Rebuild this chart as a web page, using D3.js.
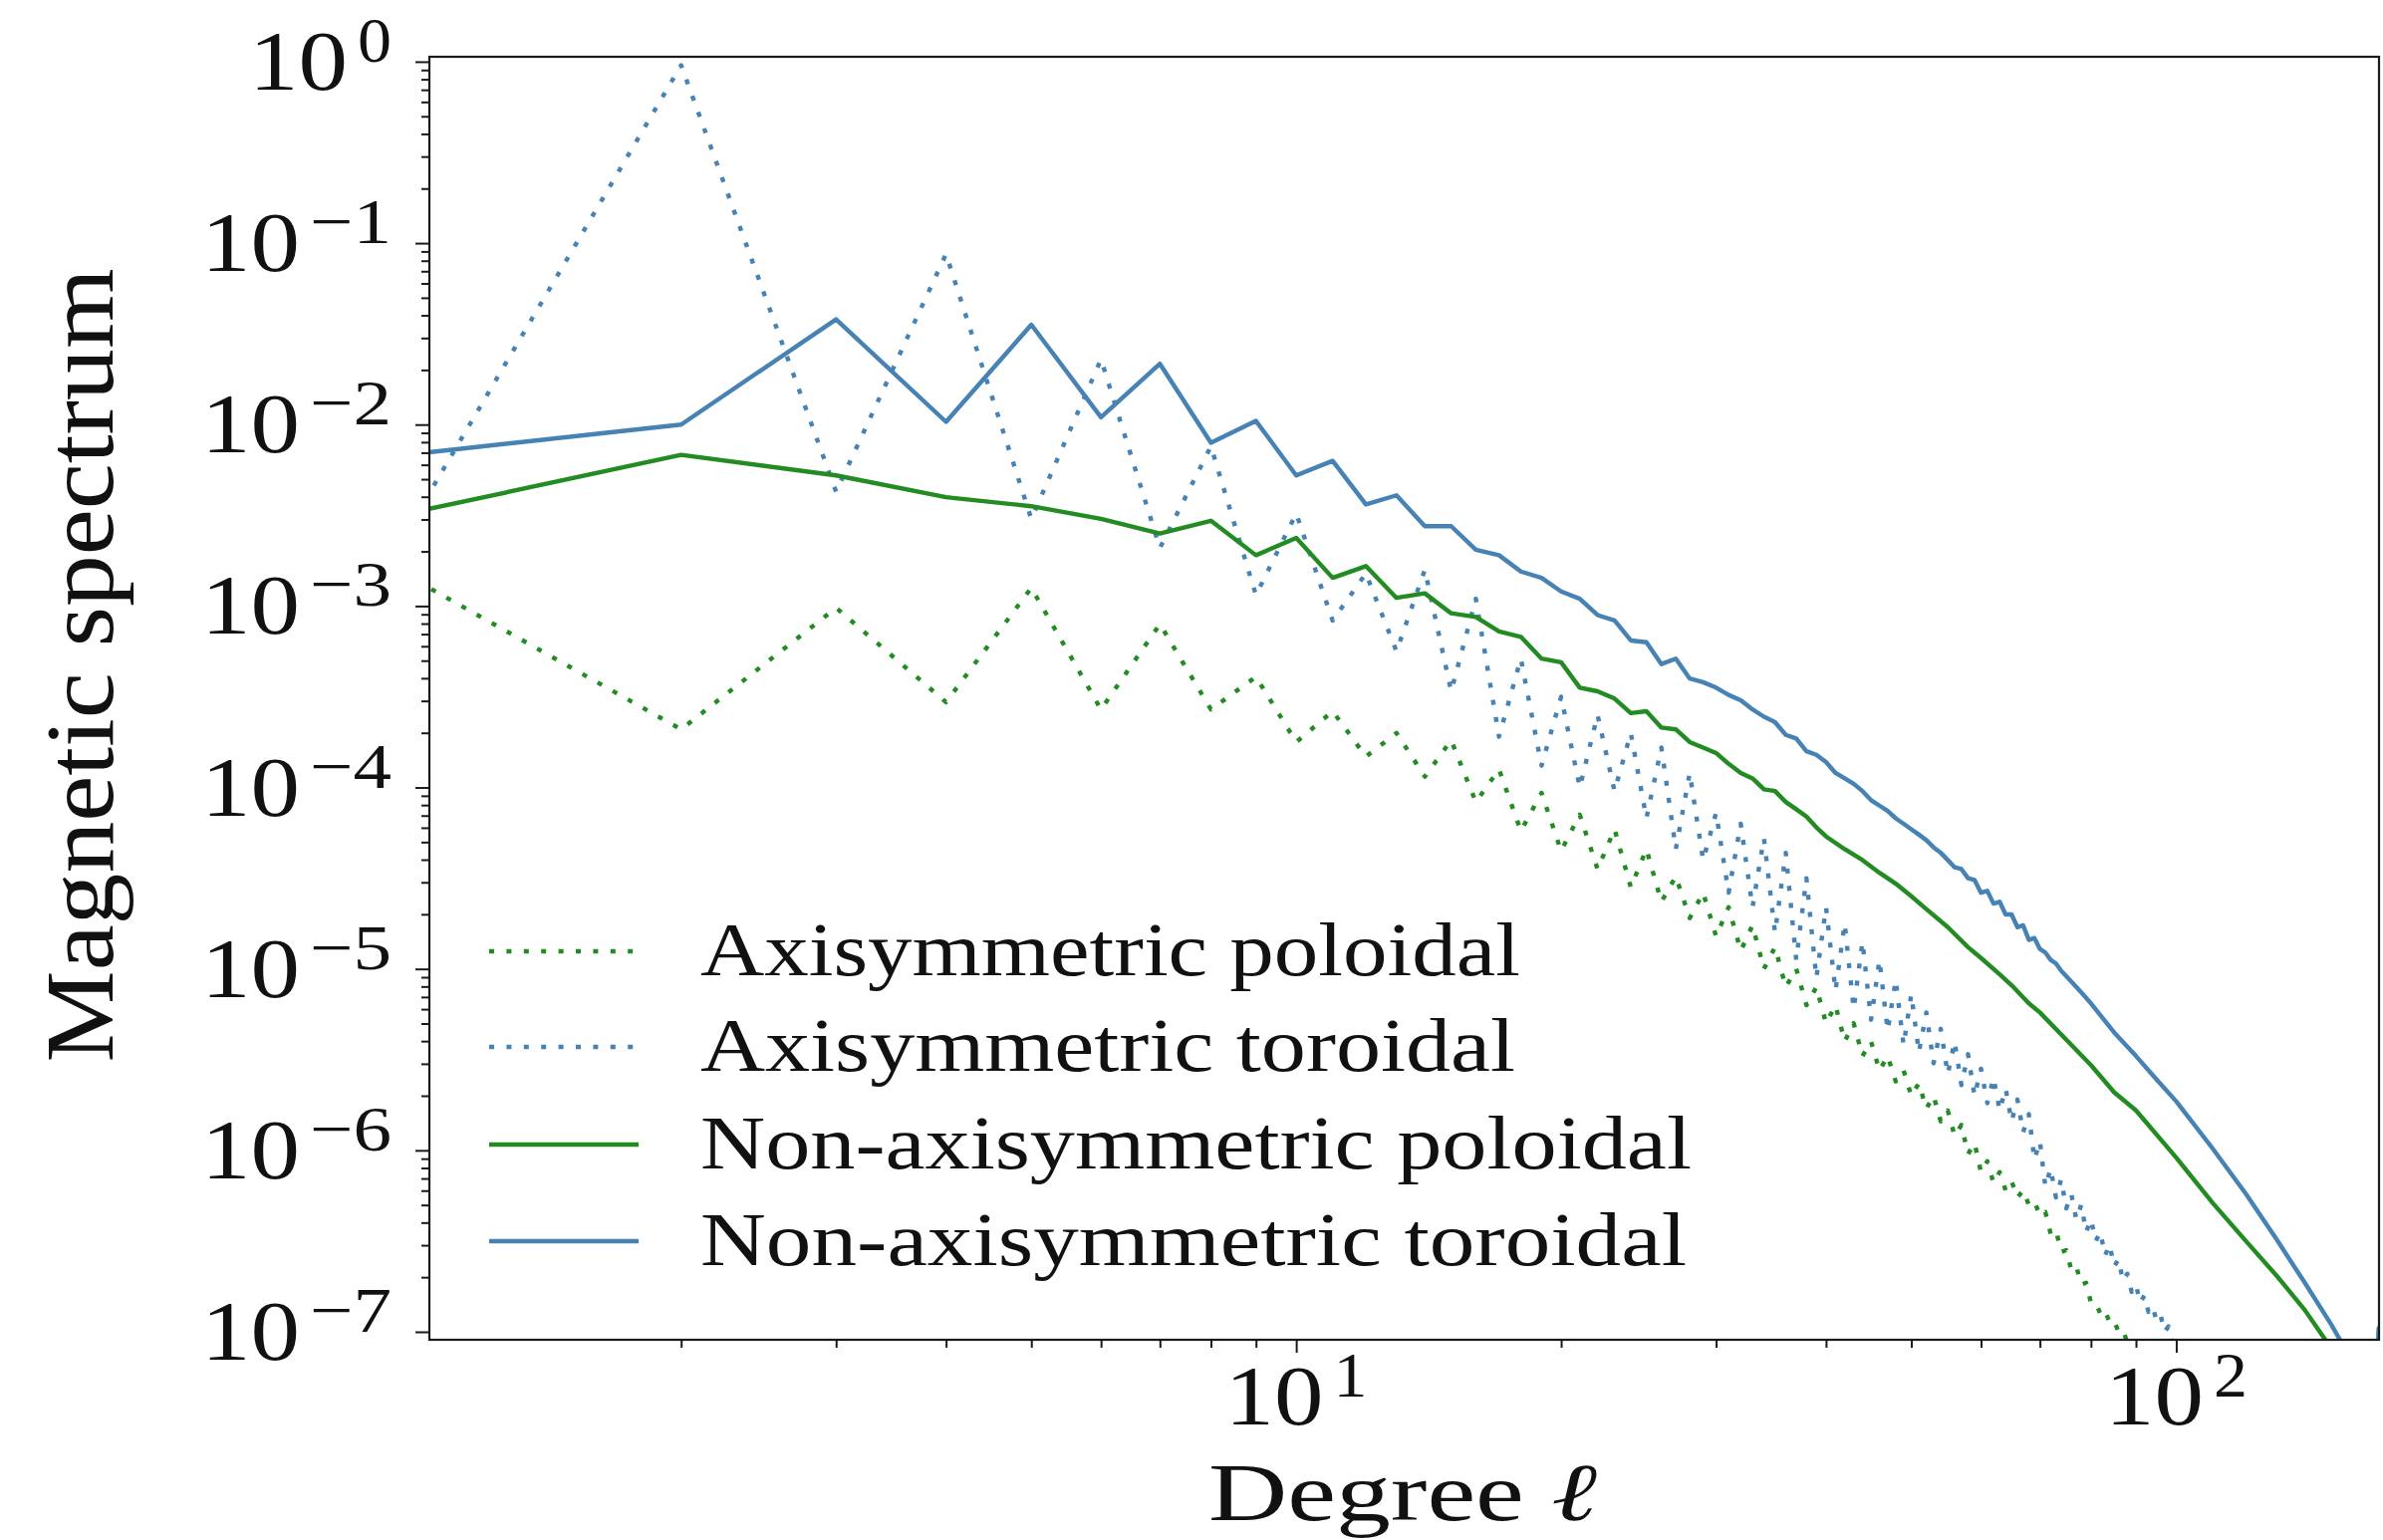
<!DOCTYPE html>
<html><head><meta charset="utf-8">
<script src="https://cdn.jsdelivr.net/npm/d3@7"></script>
<style>html,body{margin:0;padding:0;background:#fff;}svg{display:block;}</style>
</head><body>
<svg id="chart" width="2392" height="1546"></svg>
<script>
// ---------------- DATA ----------------
const seriesNames = ["Axisymmetric poloidal","Axisymmetric toroidal","Non-axisymmetric poloidal","Non-axisymmetric toroidal"];

// Axisymmetric poloidal (green, dotted): degrees 1..89
const degAxiPol = d3.range(1, 90);
const expAxiPol = [-2.86,-3.68,-3.01,-3.53,-2.90,-3.57,-3.10,-3.57,-3.39,-3.75,
  -3.58,-3.83,-3.70,-3.94,-3.74,-4.08,-3.90,-4.24,-4.03,-4.35,
  -4.15,-4.45,-4.23,-4.55,-4.34,-4.63,-4.49,-4.72,-4.58,-4.82,
  -4.66,-4.90,-4.76,-5.00,-4.88,-5.10,-5.00,-5.20,-5.10,-5.30,
  -5.20,-5.40,-5.30,-5.48,-5.40,-5.56,-5.48,-5.62,-5.56,-5.70,
  -5.63,-5.77,-5.70,-5.84,-5.78,-5.92,-5.86,-6.02,-5.96,-6.12,
  -6.06,-6.18,-6.12,-6.22,-6.17,-6.26,-6.22,-6.30,-6.28,-6.36,
  -6.34,-6.46,-6.44,-6.56,-6.55,-6.66,-6.64,-6.74,-6.73,-6.84,
  -6.84,-6.90,-6.88,-6.95,-6.94,-7.00,-6.99,-7.06,-7.10];

// Axisymmetric toroidal (blue, dotted): degrees 1..101
const degAxiTor = d3.range(1, 102);
const expAxiTor = [-2.50,-0.02,-2.37,-1.06,-2.52,-1.64,-2.68,-2.12,-2.94,-2.49,
  -3.08,-2.82,-3.25,-2.80,-3.47,-2.96,-3.72,-3.29,-3.88,-3.50,
  -4.00,-3.60,-4.02,-3.70,-4.17,-3.78,-4.34,-3.92,-4.40,-4.14,
  -4.58,-4.20,-4.66,-4.28,-4.80,-4.36,-4.95,-4.50,-5.05,-4.66,
  -5.12,-4.75,-5.22,-4.85,-5.28,-4.95,-5.34,-5.06,-5.42,-5.14,
  -5.46,-5.24,-5.52,-5.33,-5.58,-5.40,-5.64,-5.47,-5.70,-5.55,
  -5.74,-5.60,-5.78,-5.66,-5.84,-5.72,-5.90,-5.80,-6.05,-5.95,
  -6.20,-6.10,-6.26,-6.16,-6.32,-6.24,-6.38,-6.30,-6.45,-6.38,
  -6.50,-6.45,-6.58,-6.52,-6.64,-6.60,-6.72,-6.68,-6.78,-6.74,
  -6.84,-6.80,-6.89,-6.86,-6.94,-6.91,-7.00,-6.97,-7.08,-7.04,-7.15];

// Non-axisymmetric poloidal (green, solid)
const degNonPol = d3.range(1, 41).concat([42,44,46,48,50,52,55,58,60,63,65,68,70,75,80,85,90,100,110,120,130,140,148,168,170]);
const expNonPol = [-2.48,-2.167,-2.28,-2.40,-2.45,-2.52,-2.60,-2.53,-2.72,-2.625,
  -2.845,-2.78,-2.955,-2.93,-3.04,-3.06,-3.14,-3.17,-3.29,-3.31,
  -3.45,-3.47,-3.51,-3.59,-3.58,-3.67,-3.68,-3.75,-3.78,-3.81,
  -3.87,-3.92,-3.95,-4.01,-4.02,-4.08,-4.12,-4.16,-4.22,-4.27,
  -4.34,-4.40,-4.47,-4.53,-4.60,-4.67,-4.77,-4.88,-4.94,-5.03,-5.09,-5.19,-5.24,-5.39,-5.53,
  -5.68,-5.78,-6.04,-6.29,-6.50,-6.69,-6.88,-7.05,-7.50,-6.98];

// Non-axisymmetric toroidal (blue, solid)
const degNonTor = d3.range(1, 76).concat([78,80,85,90,95,100,110,120,130,140,150,155,168,170]);
const expNonTor = [-2.16,-2.00,-1.42,-1.985,-1.45,-1.96,-1.665,-2.10,-1.98,-2.28,
  -2.20,-2.44,-2.39,-2.56,-2.56,-2.69,-2.72,-2.81,-2.845,-2.92,
  -2.96,-3.05,-3.08,-3.19,-3.20,-3.32,-3.29,-3.40,-3.42,-3.45,
  -3.49,-3.52,-3.57,-3.61,-3.64,-3.71,-3.73,-3.80,-3.82,-3.86,
  -3.92,-3.95,-3.98,-4.02,-4.07,-4.10,-4.13,-4.17,-4.20,-4.23,
  -4.26,-4.29,-4.33,-4.36,-4.40,-4.44,-4.45,-4.50,-4.51,-4.58,
  -4.57,-4.64,-4.63,-4.70,-4.70,-4.77,-4.76,-4.84,-4.83,-4.89,
  -4.91,-4.95,-4.97,-5.01,-5.04,
  -5.13,-5.19,-5.35,-5.48,-5.61,-5.73,-5.99,-6.24,-6.49,-6.73,-6.96,-7.08,-7.40,-6.97];

// Axis tick labels
const xTickExps = [1, 2];
const yTickExps = [0, -1, -2, -3, -4, -5, -6, -7];
const xLabelText = "Degree ";
const xLabelSymbol = "ℓ";
const yLabelText = "Magnetic spectrum";

// ---------------- DRAWING ----------------
const colors = {green: "#228b22", blue: "#4682b4"};
const series = [
  {name: seriesNames[0], deg: degAxiPol, exp: expAxiPol, color: colors.green, dotted: true},
  {name: seriesNames[1], deg: degAxiTor, exp: expAxiTor, color: colors.blue, dotted: true},
  {name: seriesNames[2], deg: degNonPol, exp: expNonPol, color: colors.green, dotted: false},
  {name: seriesNames[3], deg: degNonTor, exp: expNonTor, color: colors.blue, dotted: false}
];

const svg = d3.select("#chart");
const L = 431, R = 2388, T = 57, B = 1345;
const x = d3.scaleLog().domain([1.035, 170]).range([L, R]);
const y = d3.scaleLog().domain([Math.pow(10, -7.044), Math.pow(10, 0.027)]).range([B, T]);
const FONT = "'Liberation Serif', 'Times New Roman', serif";
const LW = 4.4;

svg.append("rect").attr("width", 2392).attr("height", 1546).attr("fill", "#fff");

svg.append("clipPath").attr("id", "clip")
  .append("rect").attr("x", L).attr("y", T).attr("width", R - L).attr("height", B - T);

const line = d3.line().x(d => x(d[0])).y(d => y(d[1]));
const gLines = svg.append("g").attr("clip-path", "url(#clip)");
series.forEach(s => {
  const pts = s.deg.map((d, i) => [d, Math.pow(10, s.exp[i])]);
  gLines.append("path").datum(pts)
    .attr("d", line)
    .attr("fill", "none")
    .attr("stroke", s.color)
    .attr("stroke-width", LW)
    .attr("stroke-linejoin", "round")
    .attr("stroke-dasharray", s.dotted ? "5,12.4" : null);
});

// Frame
svg.append("rect").attr("x", L).attr("y", T).attr("width", R - L).attr("height", B - T)
  .attr("fill", "none").attr("stroke", "#1a1a1a").attr("stroke-width", 2.2);

// Minor/major ticks
const yMajor = yTickExps.map(e => Math.pow(10, e));
const yMinor = [];
for (let e = -8; e <= 0; e++) for (let m = 2; m <= 9; m++) {
  const v = m * Math.pow(10, e);
  if (v >= y.domain()[0] && v <= y.domain()[1]) yMinor.push(v);
}
const xMajor = xTickExps.map(e => Math.pow(10, e));
const xMinor = [];
for (let e = 0; e <= 2; e++) for (let m = 2; m <= 9; m++) {
  const v = m * Math.pow(10, e);
  if (v >= x.domain()[0] && v <= x.domain()[1]) xMinor.push(v);
}
function styleAxis(g) {
  g.select(".domain").remove();
  g.selectAll("line").attr("stroke", "#1a1a1a").attr("stroke-width", 2);
  g.selectAll("text").remove();
}
svg.append("g").attr("transform", `translate(${L},0)`)
  .call(d3.axisLeft(y).tickValues(yMinor).tickSize(8).tickFormat("")).call(styleAxis);
svg.append("g").attr("transform", `translate(${L},0)`)
  .call(d3.axisLeft(y).tickValues(yMajor).tickSize(14).tickFormat("")).call(styleAxis);
svg.append("g").attr("transform", `translate(0,${B})`)
  .call(d3.axisBottom(x).tickValues(xMinor).tickSize(8).tickFormat("")).call(styleAxis);
svg.append("g").attr("transform", `translate(0,${B})`)
  .call(d3.axisBottom(x).tickValues(xMajor).tickSize(13).tickFormat("")).call(styleAxis);

// Tick labels "10" + superscript exponent (widths matched to the original typesetting)
const BASE_FS = 84, BASE_W = 99, SUP_FS = 64, SUP_GAP = 10, SUP_RISE = 28;
const supText = e => (e < 0 ? "\u2212" + Math.abs(e) : String(e));
const supWidth = e => (e < 0 ? 82 : 34);
function powLabel(rightX, baseY, e) {
  svg.append("text").attr("x", rightX).attr("y", baseY - SUP_RISE)
    .attr("text-anchor", "end").attr("font-family", FONT).attr("font-size", SUP_FS).attr("fill", "#111")
    .attr("textLength", supWidth(e)).attr("lengthAdjust", "spacingAndGlyphs")
    .text(supText(e));
  svg.append("text").attr("x", rightX - supWidth(e) - SUP_GAP).attr("y", baseY)
    .attr("text-anchor", "end").attr("font-family", FONT).attr("font-size", BASE_FS).attr("fill", "#111")
    .attr("textLength", BASE_W).attr("lengthAdjust", "spacingAndGlyphs")
    .text("10");
}
yTickExps.forEach(e => powLabel(393, y(Math.pow(10, e)) + 28, e));
xTickExps.forEach(e => {
  const tw = BASE_W + SUP_GAP + supWidth(e);
  powLabel(x(Math.pow(10, e)) + tw / 2, 1430, e);
});

// Axis labels
const xl = svg.append("text").attr("x", 1408).attr("y", 1526).attr("text-anchor", "middle")
  .attr("font-family", FONT).attr("font-size", 82).attr("fill", "#111")
  .attr("textLength", 390).attr("lengthAdjust", "spacingAndGlyphs");
xl.append("tspan").text(xLabelText);
xl.append("tspan").attr("font-style", "italic").attr("font-family", "'DejaVu Serif', serif").attr("font-weight", 300).text(xLabelSymbol);

svg.append("text").attr("transform", "translate(113,668) rotate(-90)")
  .attr("text-anchor", "middle").attr("font-family", FONT).attr("font-size", 98).attr("fill", "#111")
  .attr("textLength", 797).attr("lengthAdjust", "spacingAndGlyphs")
  .text(yLabelText);

// Legend
const legendRowsY = [955, 1051, 1149, 1246];
const legendWidths = [823, 818, 995, 990];
series.forEach((s, i) => {
  const cy = legendRowsY[i];
  svg.append("line").attr("x1", 491).attr("x2", 641).attr("y1", cy).attr("y2", cy)
    .attr("stroke", s.color).attr("stroke-width", LW)
    .attr("stroke-dasharray", s.dotted ? "5,12.4" : null);
  svg.append("text").attr("x", 703).attr("y", cy + 24)
    .attr("font-family", FONT).attr("font-size", 76).attr("fill", "#111")
    .attr("textLength", legendWidths[i]).attr("lengthAdjust", "spacingAndGlyphs")
    .text(s.name);
});
</script>
</body></html>
